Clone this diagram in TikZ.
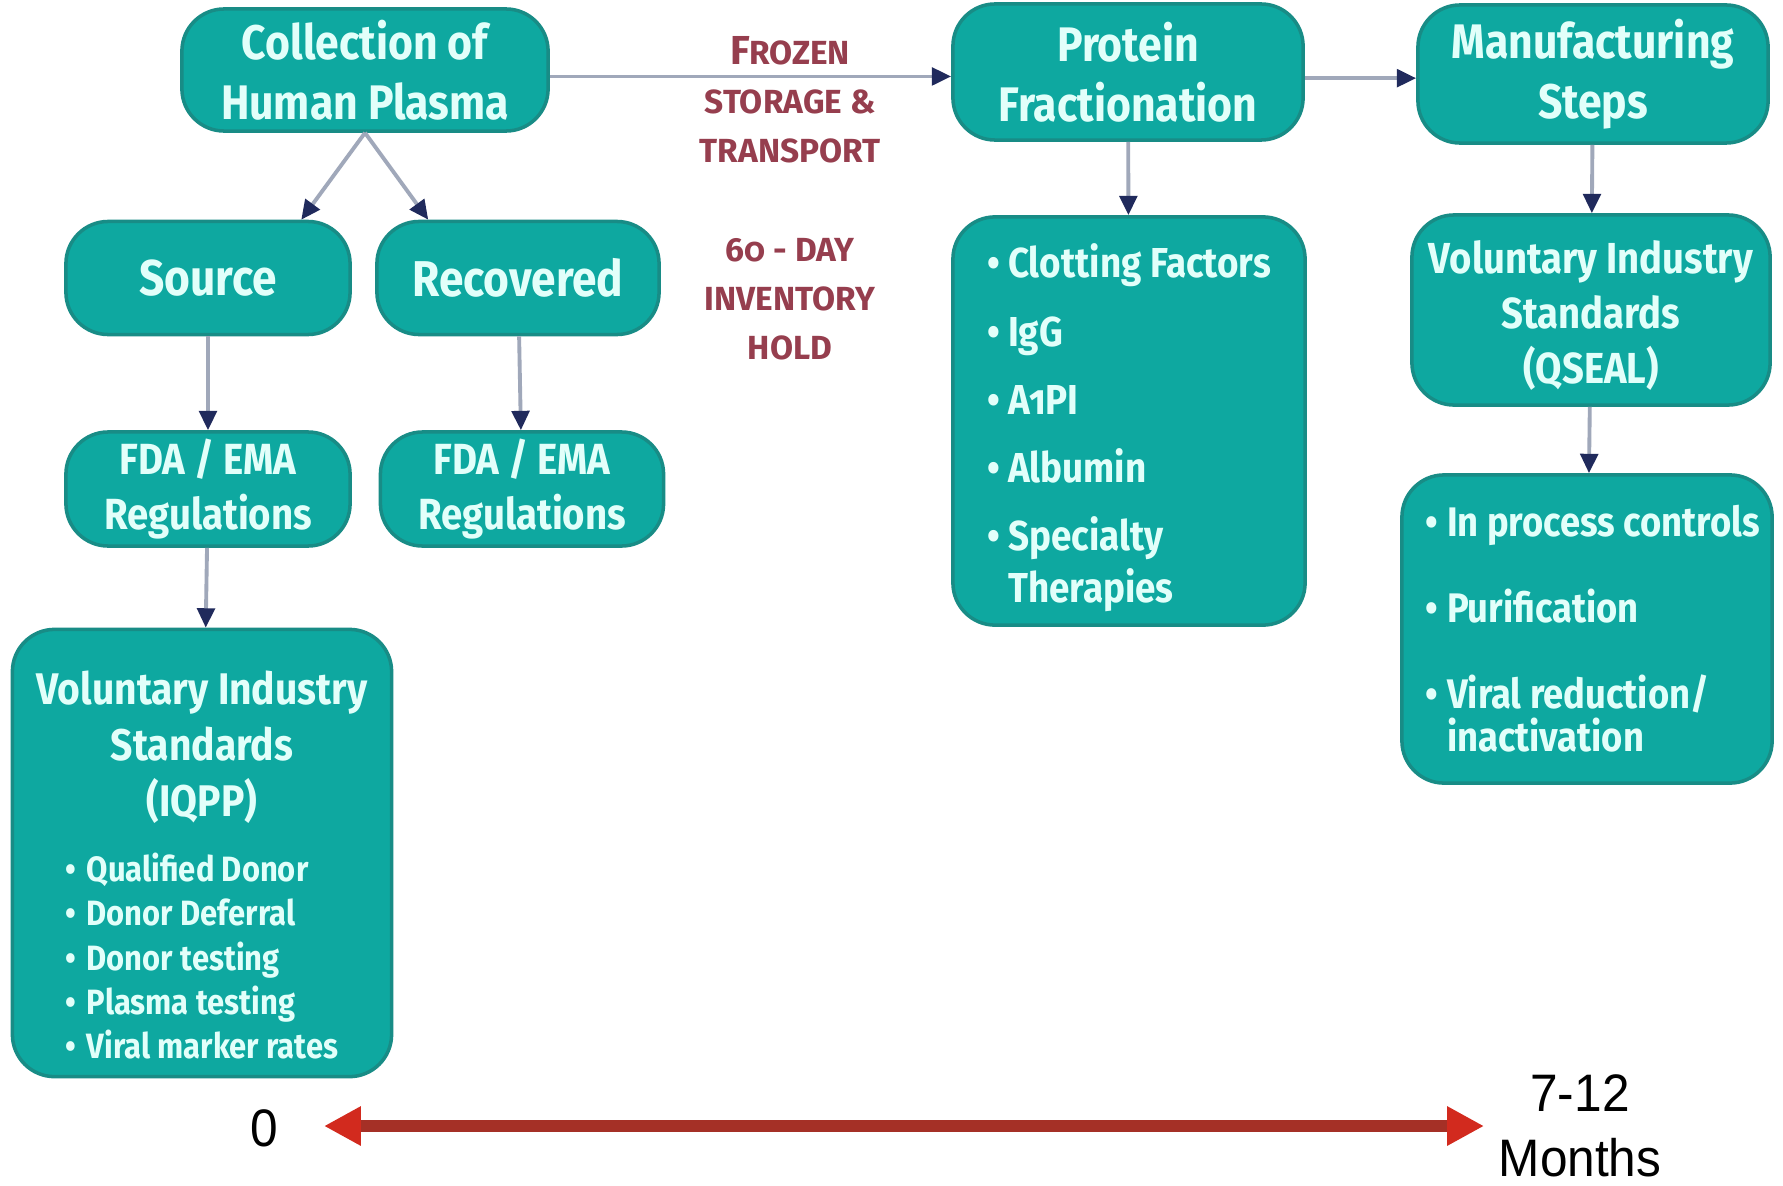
\documentclass[tikz,border=0pt]{standalone}
\usepackage{fontspec}
\setmainfont{Fira Sans}[Numbers=OldStyle, FakeStretch=0.88]
\newfontfamily\notefont{Fira Sans}[Numbers=OldStyle]
\newfontfamily\timefont{Liberation Sans}[FakeStretch=0.94]
\usepackage{tikz}
\usetikzlibrary{arrows.meta}

\definecolor{boxfill}{RGB}{14,168,160}
\definecolor{boxrim}{RGB}{24,140,134}
\definecolor{boxink}{RGB}{226,255,250}
\definecolor{stem}{RGB}{160,168,186}
\definecolor{tipnavy}{RGB}{32,42,92}
\definecolor{noteink}{RGB}{150,62,78}
\definecolor{spanline}{RGB}{165,48,38}
\definecolor{spantip}{RGB}{210,42,30}

\newcommand\itm{\makebox[6pt][l]{•}}
\newcommand\itmgap{\hspace*{6pt}}

\tikzset{
	box/.style={draw=boxrim, line width=1pt, fill=boxfill, rounded corners=12pt, text=boxink, align=center, inner sep=0pt},
	head/.style={box, font=\bfseries\fontsize{13.8}{17}\selectfont},
	kind/.style={box, font=\bfseries\fontsize{14.3}{17}\selectfont},
	rule/.style={box, font=\bfseries\fontsize{12.4}{15.6}\selectfont},
	list/.style={box, align=left},
	flow/.style={draw=stem, line width=1.1pt, -{Triangle[length=5.5pt, width=5pt, color=tipnavy]}},
	note/.style={text=noteink, align=center, inner sep=0pt, font=\notefont\bfseries\fontsize{9.5}{14}\selectfont},
	span/.style={draw=spanline, line width=3.2pt, {Triangle[length=10.5pt, width=10.5pt, color=spantip]}-{Triangle[length=10.5pt, width=10.5pt, color=spantip]}},
	tick/.style={align=center, inner sep=0pt, font=\timefont\fontsize{15}{18.6}\selectfont}
}

\begin{document}
\begin{tikzpicture}[x=0.01cm, y=-0.01cm]
	\fill[white] (0,0) rectangle (1783,1185);
	\useasboundingbox (0,0) rectangle (1783,1185);

	\node[head, minimum width=3.66cm, minimum height=1.22cm] (coll) at (365,70) {Collection of\\Human Plasma};
	\node[head, minimum width=3.50cm, minimum height=1.36cm] (prot) at (1128,72) {Protein\\Fractionation};
	\node[head, minimum width=3.50cm, minimum height=1.38cm] (manu) at (1593,74) {Manufacturing\\Steps};

	\node[kind, minimum width=2.84cm, minimum height=1.13cm] (src) at (208,278) {Source};
	\node[kind, minimum width=2.82cm, minimum height=1.13cm] (rec) at (518,278) {Recovered};
	\node[rule, minimum width=2.84cm, minimum height=1.14cm] (fda1) at (208,489) {FDA / EMA\\Regulations};
	\node[rule, minimum width=2.83cm, minimum height=1.14cm] (fda2) at (522,489) {FDA / EMA\\Regulations};

	\node[rule, font=\bfseries\fontsize{12.6}{16}\selectfont, minimum width=3.79cm, minimum height=4.47cm] (iqpp) at (202,853)
		{\rule{0pt}{20pt}Voluntary Industry\\Standards\\(IQPP)\\[2.4pt]
		\fontsize{10}{12.6}\selectfont
		\begin{tabular}[t]{@{}l@{}}
			\itm Qualified Donor\\
			\itm Donor Deferral\\
			\itm Donor testing\\
			\itm Plasma testing\\
			\itm Viral marker rates
		\end{tabular}};

	\node[list, minimum width=3.52cm, minimum height=4.08cm, font=\bfseries\fontsize{11.9}{14.6}\selectfont] (clot) at (1129,421)
		{\rule{0pt}{13.5pt}\itm Clotting Factors\\[4.8pt]
		\itm IgG\\[4.8pt]
		\itm A1PI\\[4.8pt]
		\itm Albumin\\[4.8pt]
		\itm Specialty\\
		\itmgap Therapies};

	\node[rule, font=\bfseries\fontsize{12.35}{15.6}\selectfont, minimum width=3.58cm, minimum height=1.90cm] (qseal) at (1591,310) {\rule{0pt}{12.5pt}Voluntary Industry\\Standards\\(QSEAL)};
	\node[list, align=flush left, inner xsep=0.24cm, text width=3.22cm, minimum height=3.08cm, font=\bfseries\fontsize{11.75}{12.3}\selectfont] (proc) at (1587,629)
		{\itm \mbox{In process controls}\\[12.1pt]
		\itm Purification\\[12.1pt]
		\itm Viral reduction/\\
		\itmgap inactivation};

	\draw[flow] (coll.-2) -- (coll.-2 -| prot.west);
	\draw[flow] (prot.-2) -- (prot.-2 -| manu.west);
	\draw[flow] (coll.south) -- (src.32);
	\draw[flow] (coll.south) -- (rec.147);
	\draw[flow] (src) -- (fda1);
	\draw[flow] (rec) -- (fda2);
	\draw[flow] (fda1) -- (iqpp);
	\draw[flow] (prot) -- (clot);
	\draw[flow] (manu) -- (qseal);
	\draw[flow] (qseal) -- (proc);

	\node[note] (frozen) at (790,100) {{\fontsize{11.5}{14}\selectfont F}ROZEN\\STORAGE \&\\TRANSPORT};
	\node[note] (hold) at (790,299) {60 - DAY\\INVENTORY\\HOLD};

	\coordinate (tl) at (324,1126);
	\coordinate (tr) at (1484,1126);
	\draw[span] (tl) -- (tr);
	\node[tick] (zero) at (264,1128) {0};
	\node[tick] (months) at (1580,1126) {7-12\\Months};
\end{tikzpicture}
\end{document}
